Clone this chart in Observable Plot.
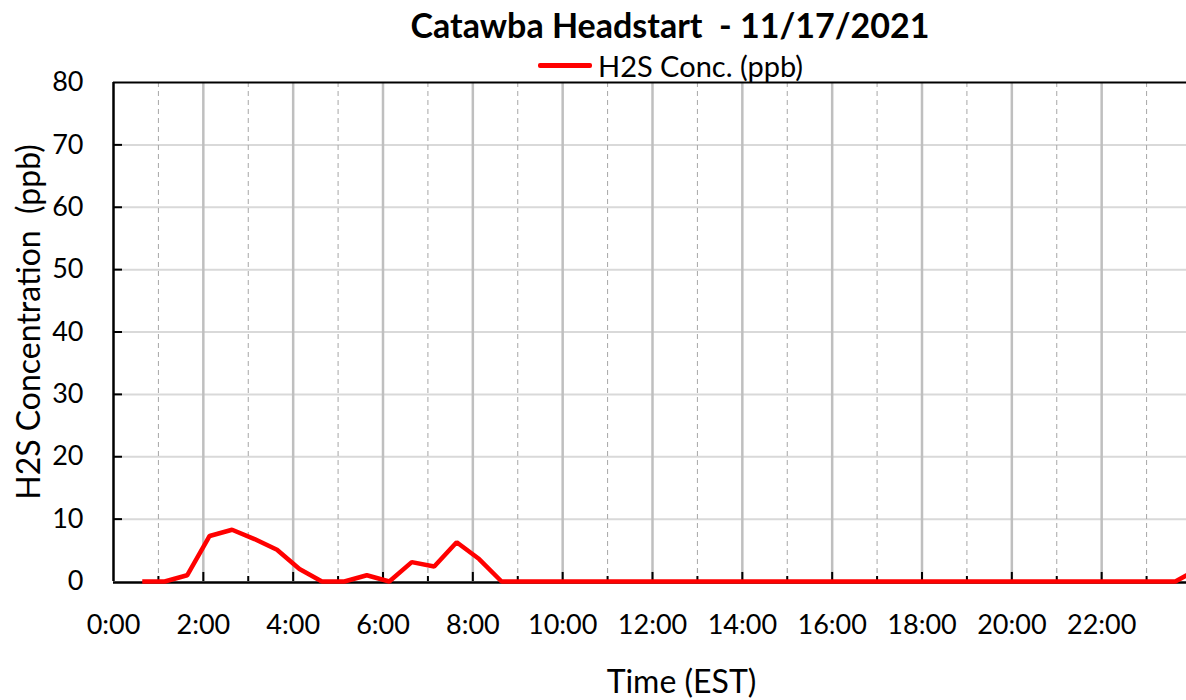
<!DOCTYPE html>
<html><head><meta charset="utf-8">
<script src="https://cdn.jsdelivr.net/npm/d3@7"></script>
<script src="https://cdn.jsdelivr.net/npm/@observablehq/plot@0.6"></script>
<style>
html,body{margin:0;padding:0;background:#fff;overflow:hidden;width:1186px;height:700px}
#head{position:relative;height:75px;font-family:Lato,"Open Sans",sans-serif;color:#000}
#title{position:absolute;left:0;width:1340px;text-align:center;top:8px;font-weight:bold;font-size:34px;line-height:34px;white-space:pre}
#legend{position:absolute;left:538px;top:51px;font-size:29px;line-height:29px;display:flex;align-items:center;white-space:pre}
#legend span.sw{display:inline-block;width:54px;height:5px;background:#ff0000;border-radius:2px;margin-right:6px}
#chart svg{display:block}
</style>
</head><body>
<div id="head">
  <div id="title">Catawba Headstart  - 11/17/2021</div>
  <div id="legend"><span class="sw"></span><span>H2S Conc. (ppb)</span></div>
</div>
<div id="chart"></div>
<script>
const times = [0.64,1.14,1.64,2.14,2.64,3.14,3.64,4.14,4.64,5.14,5.64,6.14,6.64,7.14,7.64,8.14,8.64,
  9.14,9.64,10.14,10.64,11.14,11.64,12.14,12.64,13.14,13.64,14.14,14.64,15.14,15.64,16.14,16.64,
  17.14,17.64,18.14,18.64,19.14,19.64,20.14,20.64,21.14,21.64,22.14,22.64,23.14,23.64,24.14];
const h2s = [0,0,1,7.3,8.3,6.8,5.1,2.0,0,0,1.0,0,3.1,2.4,6.3,3.6,0,
  0,0,0,0,0,0,0,0,0,0,0,0,0,0,0,0,
  0,0,0,0,0,0,0,0,0,0,0,0,0,0,2];
const majorHours = [0,2,4,6,8,10,12,14,16,18,20,22,24];
const minorHours = [1,3,5,7,9,11,13,15,17,19,21,23];
const yTicks = [0,10,20,30,40,50,60,70,80];
const yLabel = "H2S Concentration  (ppb)";
const xLabel = "Time (EST)";

const data = times.map((t, i) => ({t, v: h2s[i]}));
const font = "Lato, 'Open Sans', sans-serif";

const chart = Plot.plot({
  width: 1191,
  height: 625,
  marginTop: 7,
  marginBottom: 119,
  marginLeft: 113,
  marginRight: 0,
  style: {fontFamily: font, color: "#000", maxWidth: "none", overflow: "visible", background: "#fff"},
  x: {domain: [0, 24], axis: null},
  y: {domain: [0, 80], axis: null},
  marks: [
    Plot.ruleY(yTicks.slice(1, -1), {stroke: "#d9d9d9", strokeWidth: 2}),
    Plot.ruleX(minorHours, {stroke: "#a6a6a6", strokeWidth: 1, strokeDasharray: "5,4"}),
    Plot.ruleX(majorHours.slice(1), {stroke: "#bfbfbf", strokeWidth: 2.5}),
    Plot.ruleX(majorHours.slice(1), {y1: 0, y2: 1.45, stroke: "#000", strokeWidth: 2}),
    Plot.ruleX(minorHours, {y1: 0, y2: 0.8, stroke: "#000", strokeWidth: 2}),
    Plot.ruleY(yTicks.slice(1, -1), {x1: 0, x2: 0.2, stroke: "#000", strokeWidth: 2}),
    Plot.ruleY([0], {stroke: "#000", strokeWidth: 2.5, dy: 1}),
    Plot.ruleY([80], {stroke: "#000", strokeWidth: 2}),
    Plot.ruleX([0], {stroke: "#000", strokeWidth: 2.5}),
    Plot.line(data, {x: "t", y: "v", stroke: "#ff0000", strokeWidth: 4.5, strokeLinejoin: "miter", strokeLinecap: "butt"}),
    Plot.axisX({ticks: majorHours.slice(0, -1), tickFormat: h => `${h}:00`, tickSize: 0, tickPadding: 33, fontSize: 27, label: null}),
    Plot.axisY({ticks: yTicks, tickSize: 0, tickPadding: 30, fontSize: 27, label: null}),
    Plot.text([yLabel], {frameAnchor: "left", textAnchor: "middle", lineAnchor: "middle", rotate: -90, dx: -84, dy: -10, fontSize: 32}),
    Plot.text([xLabel], {frameAnchor: "bottom", textAnchor: "middle", lineAnchor: "middle", dy: 101, dx: 29, fontSize: 32})
  ]
});
document.getElementById("chart").appendChild(chart);
</script>
</body></html>
